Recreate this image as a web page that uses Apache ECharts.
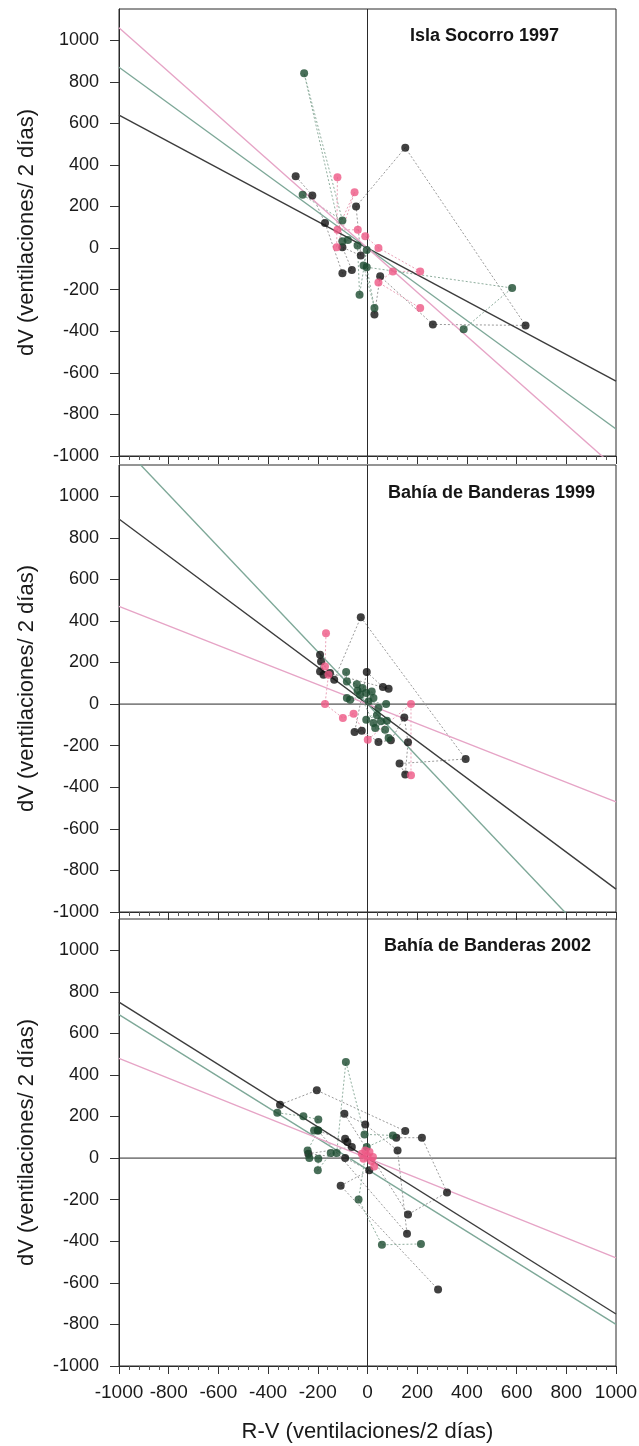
<!DOCTYPE html>
<html>
<head>
<meta charset="utf-8">
<title>dV vs R-V</title>
<script src="https://cdn.jsdelivr.net/npm/echarts@6/dist/echarts.min.js"></script>
<style>
  html, body { margin: 0; padding: 0; background: #ffffff; }
  #chart { width: 639px; height: 1446px; }
</style>
</head>
<body>
<div id="chart"></div>
<script>
// ---- data: [R-V, dV] pairs in sampling order, per group ----
const socorroBlack = [[-289,346],[-222,253],[-171,121],[-101,-121],[-63,-105],[-101,4],[-27,-36],[-46,200],[152,483],[636,-372],[263,-367],[51,-136],[28,-320]];
const socorroGreen = [[-261,256],[-101,133],[-255,841],[-101,33],[-79,39],[-40,12],[-32,-224],[-3,-9],[-16,-84],[28,-288],[-3,-92],[582,-192],[387,-390]];
const socorroPink  = [[-121,341],[-124,4],[-52,269],[-121,88],[-39,88],[-9,57],[44,1],[212,-112],[102,-112],[44,-165],[212,-288]];

const banderas99Black = [[-191,237],[-177,141],[-134,117],[-27,418],[395,-264],[129,-286],[152,-339],[163,-184],[148,-64],[94,-174],[44,-182],[-23,-128],[-52,-134],[-3,154],[62,82],[85,74],[-151,149],[-187,205],[-191,157]];
const banderas99Green = [[-86,154],[-83,109],[-43,96],[-40,64],[-20,77],[-5,53],[17,61],[24,29],[-83,29],[-70,21],[4,13],[75,0],[-5,-75],[38,-54],[54,-83],[78,-80],[31,-115],[71,-123],[85,-163],[24,-91],[-30,45],[44,-19]];
const banderas99Pink  = [[-167,341],[-171,181],[-157,141],[-171,0],[-99,-67],[-56,-46],[1,-171],[175,0],[175,-342]];

const banderas02Black = [[-352,257],[-204,326],[152,130],[116,98],[219,98],[320,-165],[163,-271],[-93,213],[-9,162],[121,37],[159,-364],[-200,133],[-81,77],[-90,93],[-63,53],[-238,21],[-90,0],[7,-59],[-108,-133],[284,-632]];
const banderas02Green = [[-363,218],[-258,201],[-198,186],[-215,133],[-198,133],[-241,37],[-234,0],[-198,-3],[-200,-59],[-148,24],[-124,24],[-87,462],[-12,114],[102,109],[-3,53],[-36,-199],[58,-417],[215,-413]];
const banderas02Pink  = [[-23,21],[-9,37],[0,8],[15,-14],[27,-40],[-16,-3],[8,29],[22,5]];

// linear fits [intercept, slope] for black, green, pink groups
const socorroFits    = [[0,-0.64],[0,-0.87],[0,-1.06]];
const banderas99Fits = [[0,-0.89],[0,-1.26],[0,-0.47]];
const banderas02Fits = [[0,-0.75],[-55,-0.745],[0,-0.48]];

const panelTitles = ['Isla Socorro 1997', 'Bahía de Banderas 1999', 'Bahía de Banderas 2002'];
const yTickValues = [-1000,-800,-600,-400,-200,0,200,400,600,800,1000];

// ---- layout / style ----
const FONT = '"Liberation Sans", Arial, sans-serif';
const gridTops = [9, 465, 919];
const gridHeight = 447;
const titlePos = [[405, 22], [383, 479], [379, 932]];
const dotColors = ['#111111', '#1c4b2f', '#ee5784'];
const fitColors = ['#3c3c3c', '#7ea898', '#e6a4c6'];
const linkColors = ['#9a9a9a', '#8fae9e', '#eaa2b8'];
const Y_MIN = -1000, Y_MAX = 1150, X_MIN = -1000, X_MAX = 1000;
const plainNumber = v => String(v);

const panels = [
  { groups: [socorroBlack, socorroGreen, socorroPink], fits: socorroFits, zeroH: false },
  { groups: [banderas99Black, banderas99Green, banderas99Pink], fits: banderas99Fits, zeroH: true },
  { groups: [banderas02Black, banderas02Green, banderas02Pink], fits: banderas02Fits, zeroH: true }
];

const grids = [], xAxes = [], yAxes = [], series = [], titles = [];

panels.forEach((p, i) => {
  const last = i === panels.length - 1;
  grids.push({
    left: 119, width: 497, top: gridTops[i], height: gridHeight,
    containLabel: false, outerBoundsMode: 'none',
    show: true, borderColor: '#2a2a2a', borderWidth: 1, backgroundColor: 'transparent'
  });
  xAxes.push({
    gridIndex: i, type: 'value', min: X_MIN, max: X_MAX, interval: 200,
    axisLine: { show: true, onZero: false, lineStyle: { color: '#2a2a2a', width: 1 } },
    axisTick: { show: true, inside: false, length: 8, lineStyle: { color: '#333' } },
    minorTick: { show: true, splitNumber: 5, length: 4, lineStyle: { color: '#555' } },
    splitLine: { show: false },
    axisLabel: last
      ? { show: true, fontSize: 19, color: '#1a1a1a', margin: 17, fontFamily: FONT, formatter: plainNumber }
      : { show: false },
    name: last ? 'R-V (ventilaciones/2 días)' : '',
    nameLocation: 'middle', nameGap: 55,
    nameTextStyle: { fontSize: 22, color: '#1a1a1a', fontFamily: FONT }
  });
  yAxes.push({
    gridIndex: i, type: 'value', min: Y_MIN, max: Y_MAX, interval: 200,
    axisLine: { show: true, onZero: false, lineStyle: { color: '#2a2a2a', width: 1 } },
    axisTick: { show: true, inside: false, length: 9, customValues: yTickValues, lineStyle: { color: '#333' } },
    splitLine: { show: false },
    axisLabel: { customValues: yTickValues, fontSize: 18, color: '#1a1a1a', margin: 20, fontFamily: FONT, formatter: plainNumber },
    name: 'dV (ventilaciones/ 2 días)',
    nameLocation: 'middle', nameGap: 81,
    nameTextStyle: { fontSize: 22, color: '#1a1a1a', fontFamily: FONT }
  });
  titles.push({
    text: panelTitles[i], left: titlePos[i][0], top: titlePos[i][1],
    textStyle: { fontSize: 18, fontWeight: 'bold', color: '#151515', fontFamily: FONT, letterSpacing: 0.8 }
  });

  const base = { xAxisIndex: i, yAxisIndex: i, silent: true, animation: false };

  // reference axes through the origin
  series.push(Object.assign({}, base, {
    type: 'line', symbol: 'none', data: [[0, Y_MIN], [0, Y_MAX]],
    lineStyle: { color: '#2a2a2a', width: 1 }, z: 1
  }));
  if (p.zeroH) {
    series.push(Object.assign({}, base, {
      type: 'line', symbol: 'none', data: [[X_MIN, 0], [X_MAX, 0]],
      lineStyle: { color: '#2a2a2a', width: 1 }, z: 1
    }));
  }

  p.groups.forEach((pts, g) => {
    // dotted path joining consecutive samples
    series.push(Object.assign({}, base, {
      type: 'line', symbol: 'none', data: pts,
      lineStyle: { color: linkColors[g], width: 1, type: [2, 2] }, z: 2
    }));
  });

  p.fits.forEach((f, g) => {
    const [a, b] = f;
    series.push(Object.assign({}, base, {
      type: 'line', symbol: 'none', clip: true,
      data: [[X_MIN, a + b * X_MIN], [X_MAX, a + b * X_MAX]],
      lineStyle: { color: fitColors[g], width: 1.4 }, z: 3
    }));
  });

  p.groups.forEach((pts, g) => {
    series.push(Object.assign({}, base, {
      type: 'scatter', data: pts, symbol: 'circle', symbolSize: 8,
      itemStyle: { color: dotColors[g] }, z: 5 + g
    }));
  });
});

const chart = echarts.init(document.getElementById('chart'), null, { renderer: 'canvas' });
chart.setOption({
  backgroundColor: '#ffffff',
  animation: false,
  title: titles,
  grid: grids,
  xAxis: xAxes,
  yAxis: yAxes,
  series: series
});
</script>
</body>
</html>
